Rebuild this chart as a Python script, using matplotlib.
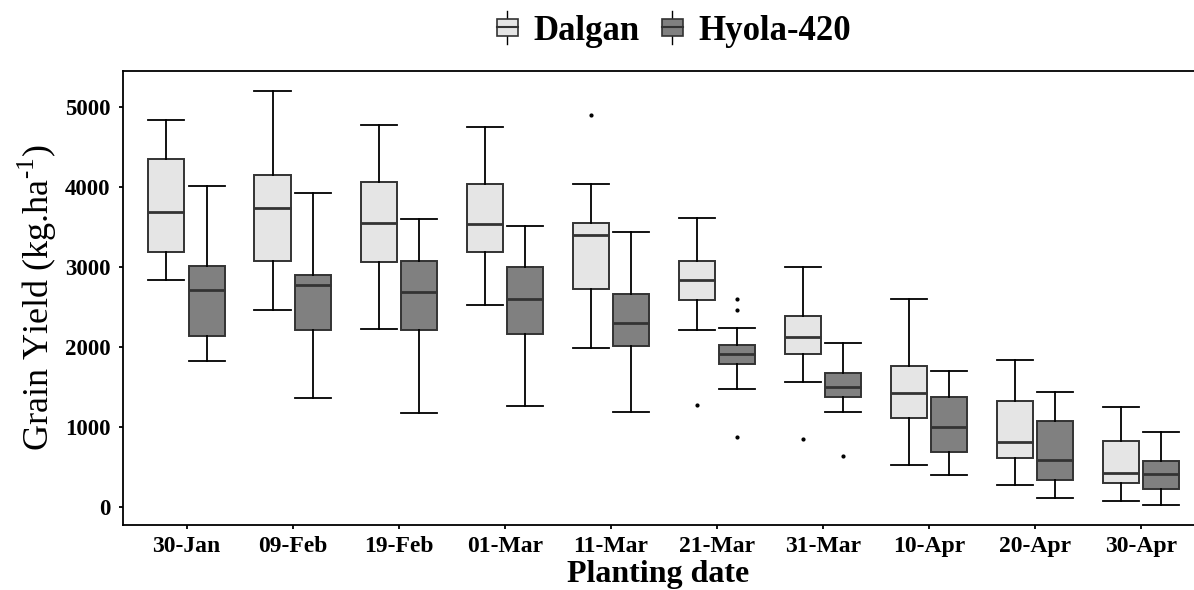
import numpy as np
import matplotlib.pyplot as plt
import matplotlib.lines as mlines
import matplotlib.patches as mpatches
from matplotlib.legend_handler import HandlerBase

plt.rcParams['font.family'] = ['Liberation Serif', 'DejaVu Serif']
plt.rcParams['mathtext.fontset'] = 'custom'
plt.rcParams['mathtext.rm'] = 'Liberation Serif'

dates = ['30-Jan', '09-Feb', '19-Feb', '01-Mar', '11-Mar',
         '21-Mar', '31-Mar', '10-Apr', '20-Apr', '30-Apr']
cultivars = ['Dalgan', 'Hyola-420']

# box statistics (kg/ha)
dalgan_low = [2838, 2463, 2225, 2521, 1988, 2209, 1563, 521, 271, 67]
dalgan_q1 = [3184, 3071, 3059, 3184, 2725, 2588, 1909, 1105, 605, 300]
dalgan_med = [3688, 3738, 3542, 3530, 3392, 2838, 2117, 1421, 805, 417]
dalgan_q3 = [4346, 4142, 4063, 4030, 3542, 3071, 2380, 1755, 1325, 821]
dalgan_high = [4834, 5196, 4775, 4742, 4034, 3609, 2996, 2600, 1830, 1246]
dalgan_out = [[], [], [], [], [4892], [1271], [846], [], [], []]

hyola_low = [1826, 1355, 1171, 1263, 1188, 1467, 1188, 396, 113, 21]
hyola_q1 = [2129, 2209, 2209, 2159, 2005, 1784, 1371, 680, 334, 225]
hyola_med = [2713, 2775, 2680, 2600, 2300, 1909, 1500, 992, 588, 409]
hyola_q3 = [3009, 2900, 3071, 2992, 2659, 2017, 1667, 1367, 1071, 567]
hyola_high = [4013, 3921, 3592, 3513, 3434, 2238, 2050, 1700, 1434, 934]
hyola_out = [[], [], [], [], [], [2596, 2455, 875], [638], [], [], []]

fills = ['#e5e5e5', '#808080']
edge = '#333333'


def make_stats(low, q1, med, q3, high, out):
    return [dict(whislo=a, q1=b, med=c, q3=d, whishi=e, fliers=f)
            for a, b, c, d, e, f in zip(low, q1, med, q3, high, out)]


series = [make_stats(dalgan_low, dalgan_q1, dalgan_med, dalgan_q3, dalgan_high, dalgan_out),
          make_stats(hyola_low, hyola_q1, hyola_med, hyola_q3, hyola_high, hyola_out)]

fig = plt.figure(figsize=(11.94, 5.9), dpi=100)
ax = fig.add_axes([0.103, 0.110, 0.897, 0.770])

x = np.arange(1, len(dates) + 1)
offsets = [-0.19, 0.19]
for stats, off, fc in zip(series, offsets, fills):
    ax.bxp(stats, positions=x + off, widths=0.34, patch_artist=True,
           showfliers=True, manage_ticks=False,
           boxprops=dict(facecolor=fc, edgecolor=edge, linewidth=1.4),
           medianprops=dict(color=edge, linewidth=2.0),
           whiskerprops=dict(color='black', linewidth=1.3),
           capprops=dict(color='black', linewidth=1.3),
           capwidths=0.34,
           flierprops=dict(marker='o', markersize=2, markerfacecolor='black',
                           markeredgecolor='black', linestyle='none'))

ax.set_xlim(0.4, 10.5)
ax.set_ylim(-230, 5450)
ax.set_xticks(x)
ax.set_xticklabels(dates, fontsize=17, fontweight='bold')
ax.set_yticks([0, 1000, 2000, 3000, 4000, 5000])
ax.set_yticklabels(['0', '1000', '2000', '3000', '4000', '5000'],
                   fontsize=16.5, fontweight='bold')
ax.tick_params(axis='both', direction='out', length=3, width=1.3,
               color='black')
ax.tick_params(axis='x', pad=5)
ax.tick_params(axis='y', pad=6)
for s in ['left', 'bottom', 'top']:
    ax.spines[s].set_linewidth(1.3)
    ax.spines[s].set_color('black')
ax.spines['right'].set_visible(False)

ax.set_xlabel('Planting date', fontsize=23, fontweight='bold', labelpad=2)
ax.set_ylabel('Grain Yield (kg.ha$^{\\text{-}1}$)', fontsize=26, labelpad=4)


class BoxHandler(HandlerBase):
    def create_artists(self, legend, orig_handle, xdescent, ydescent,
                       width, height, fontsize, trans):
        w = width * 0.75
        x0 = xdescent + (width - w) / 2
        cx = x0 + w / 2
        h = height
        y0 = -ydescent
        rect = mpatches.Rectangle((x0, y0), w, h, facecolor=orig_handle.get_facecolor(),
                                  edgecolor=edge, linewidth=1.2, transform=trans)
        med = mlines.Line2D([x0, x0 + w], [y0 + h / 2] * 2, color=edge, lw=1.5, transform=trans)
        top = mlines.Line2D([cx, cx], [y0 + h, y0 + h * 1.45], color='black', lw=1.0, transform=trans)
        bot = mlines.Line2D([cx, cx], [y0, y0 - h * 0.45], color='black', lw=1.0, transform=trans)
        return [top, bot, rect, med]


handles = [mpatches.Patch(facecolor=fc) for fc in fills]
fig.legend(handles, cultivars, handler_map={mpatches.Patch: BoxHandler()},
           loc='center', bbox_to_anchor=(0.563, 0.947), ncol=2, frameon=False,
           prop=dict(size=25, weight='bold'), handlelength=0.8, handleheight=0.4,
           handletextpad=0.35, columnspacing=0.55)

fig.savefig('out.png', dpi=100)
